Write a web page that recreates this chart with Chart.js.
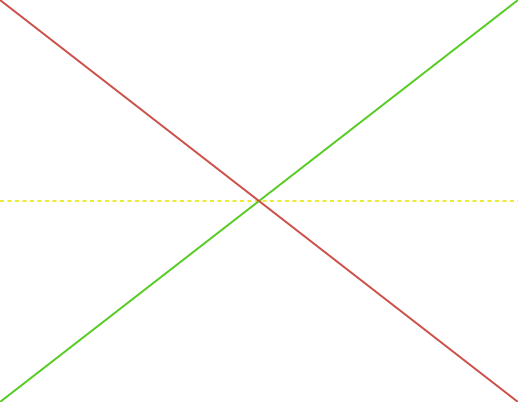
<!DOCTYPE html>
<html>
<head>
<meta charset="utf-8">
<script src="https://cdn.jsdelivr.net/npm/chart.js@4/dist/chart.umd.min.js"></script>
<style>
    html, body { margin: 0; padding: 0; background: #ffffff; }
    #wrap { width: 518px; height: 402px; position: relative; }
</style>
</head>
<body>
<div id="wrap"><canvas id="chart"></canvas></div>
<script>
// x positions, and the three series
const xValues = [0, 1];
const falling = [1, 0];
const rising = [0, 1];
const level = [0.5, 0.5];

function toPoints(ys) {
    return xValues.map((x, i) => ({ x, y: ys[i] }));
}

const ctx = document.getElementById('chart').getContext('2d');
new Chart(ctx, {
    type: 'line',
    data: {
        datasets: [
            {
                label: 'falling',
                data: toPoints(falling),
                borderColor: '#cc504a',
                borderWidth: 2,
                pointRadius: 0,
                clip: false
            },
            {
                label: 'rising',
                data: toPoints(rising),
                borderColor: '#55cc22',
                borderWidth: 2,
                pointRadius: 0,
                clip: false
            },
            {
                label: 'level',
                data: toPoints(level),
                borderColor: '#eee83a',
                borderWidth: 2,
                borderDash: [4, 3.5],
                pointRadius: 0,
                clip: false
            }
        ]
    },
    options: {
        responsive: true,
        maintainAspectRatio: false,
        animation: false,
        layout: { padding: 0 },
        plugins: {
            legend: { display: false },
            tooltip: { enabled: false }
        },
        scales: {
            x: { type: 'linear', min: 0, max: 1, display: false },
            y: { min: 0, max: 1, display: false }
        }
    }
});
</script>
</body>
</html>
